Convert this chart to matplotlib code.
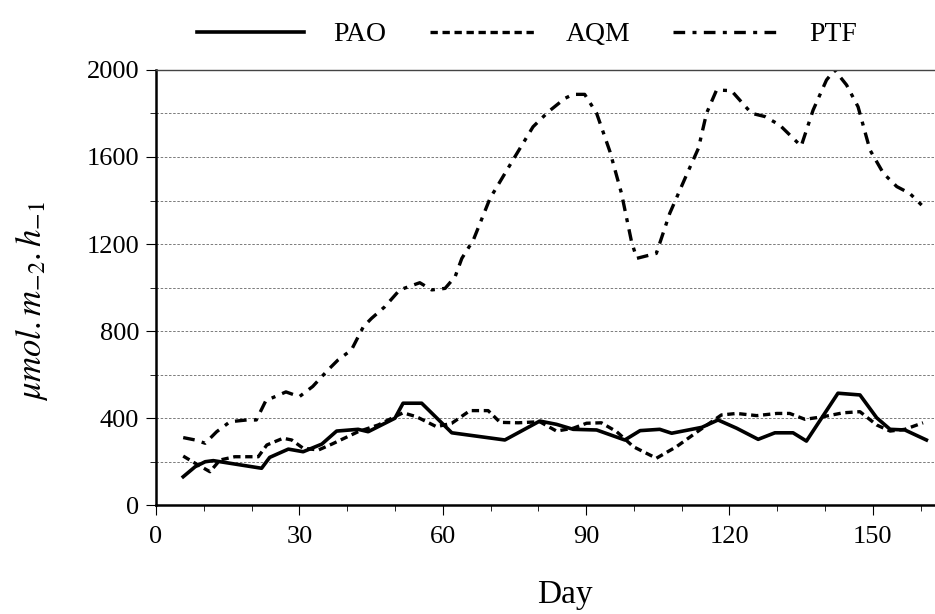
import numpy as np
import matplotlib
matplotlib.use('Agg')
import matplotlib.pyplot as plt
from matplotlib.ticker import MultipleLocator

# values
pao_day = [5.7, 8.2, 10.3, 12, 22.1, 23.8, 27.7, 30.8, 34.7, 37.8, 42.3, 44.4, 50, 51.7,
           55.6, 61.9, 73, 80.3, 83.8, 87.3, 92.2, 98.1, 101.3, 105.4, 107.9, 114.2, 117.6,
           121.5, 126, 129.5, 133.3, 136.1, 142.7, 147.3, 150.8, 153.6, 156.7, 161.2]
pao_val = [130, 176, 199, 204, 169, 219, 257, 245, 280, 340, 348, 337, 399, 468,
           468, 332, 299, 386, 371, 348, 345, 299, 342, 348, 330, 357, 391,
           353, 302, 332, 332, 294, 514, 506, 401, 348, 345, 299]

aqm_day = [5.7, 8.2, 11.3, 13.4, 16.5, 21.4, 23.2, 26.6, 28.4, 30.8, 34, 36.8, 42.3, 46.5,
           50, 51.7, 54.5, 58.7, 61.9, 65.7, 69.5, 72, 75.8, 80.3, 83.8, 87.3, 90.1, 93.2,
           96.4, 99.9, 104.7, 108.9, 113.8, 118.3, 121.5, 125.7, 129.9, 132.6, 135.8, 139.6,
           143.8, 147.3, 150.8, 153.6, 156.7, 160.5]
aqm_val = [225, 192, 153, 207, 222, 222, 276, 307, 299, 261, 253, 280, 337, 368,
           406, 424, 406, 360, 376, 434, 434, 380, 378, 383, 340, 353, 376, 378,
           337, 268, 215, 268, 345, 414, 421, 411, 421, 421, 394, 406,
           424, 429, 368, 340, 348, 378]

ptf_day = [5.7, 8.2, 10.3, 12.7, 15.5, 19, 21, 23, 27.2, 30, 32.8, 36, 38.1, 40.9, 43.4,
           45.1, 47.9, 51, 55.2, 57.7, 60.5, 62.6, 64, 66.4, 69.9, 75.1, 78.9, 82.1, 85.6,
           87.3, 89.7, 92.2, 95, 97.4, 99.5, 100.6, 104.7, 107.5, 111, 113.5, 115.2, 117.3,
           120.4, 124.6, 127.4, 130.5, 135, 137.5, 140.3, 142, 144.5, 146.9, 149.4, 152.2,
           155, 157.7, 160.2]
ptf_val = [310, 299, 284, 337, 383, 391, 391, 480, 520, 498, 545, 621, 667, 713, 820,
           858, 912, 989, 1022, 989, 996, 1050, 1134, 1218, 1410, 1601, 1739, 1808, 1870,
           1888, 1888, 1801, 1624, 1433, 1211, 1134, 1157, 1341, 1517, 1640, 1801, 1908,
           1905, 1801, 1786, 1747, 1650, 1816, 1954, 2000, 1931, 1831, 1632, 1525,
           1464, 1433, 1379]

plt.rcParams['font.family'] = ['Liberation Serif', 'DejaVu Serif']
plt.rcParams['mathtext.fontset'] = 'stix'

fig = plt.figure(figsize=(9.35, 6.14), dpi=100)
ax = fig.add_axes([0.1668, 0.1775, 0.8332, 0.7085])

ax.plot(pao_day, pao_val, color='black', lw=2.6, label='PAO')
ax.plot(aqm_day, aqm_val, color='black', lw=2.4, dashes=(2.2, 1.4), label='AQM')
ax.plot(ptf_day, ptf_val, color='black', lw=2.4, dashes=(3.5, 2.2, 1.2, 2.2), label='PTF')

ax.set_xlim(0, 163)
ax.set_ylim(0, 2000)
ax.xaxis.set_major_locator(MultipleLocator(30))
ax.xaxis.set_minor_locator(MultipleLocator(10))
ax.yaxis.set_major_locator(MultipleLocator(400))
ax.yaxis.set_minor_locator(MultipleLocator(200))
ax.grid(True, which='both', axis='y', color='#666666', lw=0.6, ls=(0, (3, 2)))
ax.tick_params(which='major', direction='out', length=7, width=0.8, labelsize=19, pad=5)
ax.tick_params(axis='x', which='major', pad=8)
ax.tick_params(which='minor', direction='out', length=4, width=0.6)

ax.spines['right'].set_visible(False)
ax.spines['top'].set_color('#444444')
ax.spines['top'].set_linewidth(1.0)
ax.spines['left'].set_linewidth(1.8)
ax.spines['bottom'].set_linewidth(1.8)

ax.set_xlabel('Day', fontsize=24)
ax.xaxis.set_label_coords(0.525, -0.172)
ax.set_ylabel(r'$\mu mol.m_{-2}.h_{-1}$', fontsize=25)
ax.yaxis.set_label_coords(-0.136, 0.47)

fig.legend(loc='upper center', bbox_to_anchor=(0.564, 1.005), ncol=3, frameon=False,
           fontsize=20, handlelength=3.85, handletextpad=1.05, columnspacing=1.55)

fig.savefig('out.png', dpi=100)
